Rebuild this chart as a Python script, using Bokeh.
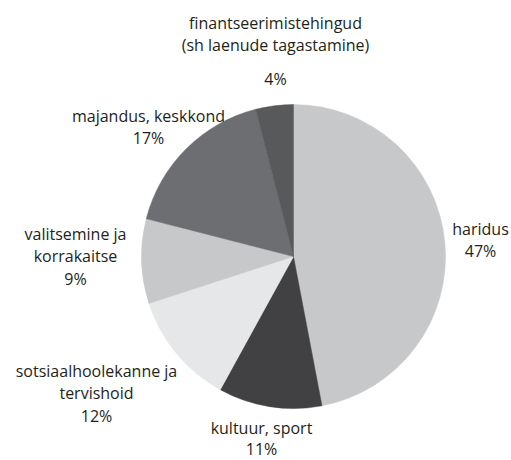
import numpy as np
from bokeh.plotting import figure
from bokeh.models import Range1d, ColumnDataSource
from bokeh.core.properties import value
from bokeh.embed import file_html
from bokeh.resources import INLINE

# ---- data ----
categories = ["haridus", "kultuur, sport", "sotsiaalhoolekanne ja\ntervishoid",
              "valitsemine ja\nkorrakaitse", "majandus, keskkond",
              "finantseerimistehingud\n(sh laenude tagastamine)"]
shares = [47, 11, 12, 9, 17, 4]
colors = ["#c7c8ca", "#414042", "#e6e7e8", "#c7c8ca", "#6d6e71", "#58595b"]

# ---- layout (screen px of first label line centre, extra gap before %) ----
label_pos = [(480, 228), (261, 427), (96, 370), (75, 233), (148, 115), (275, 22)]
pct_extra = [0, -1.5, 0, 0, 0, 11]
W, H = 511, 460
CX, CY, R = 293, 256, 152
LINE_H = 22.5

p = figure(width=W, height=H, output_backend="svg", toolbar_location=None,
           x_range=Range1d(0, W), y_range=Range1d(0, H), min_border=0)
p.axis.visible = False
p.grid.visible = False
p.outline_line_color = None
p.background_fill_color = "white"

total = sum(shares)
fr = np.array(shares) / total
ends = np.cumsum(fr) * 2 * np.pi
starts = np.concatenate([[0], ends[:-1]])
src = ColumnDataSource(dict(start=np.pi / 2 - starts, end=np.pi / 2 - ends, color=colors))
p.wedge(x=CX, y=H - CY, radius=R, radius_units="screen", start_angle="start", end_angle="end",
        direction="clock", fill_color="color", line_color="color", line_width=0.5, source=src)

xs, ys, ts = [], [], []
for cat, s, (lx, ly), ex in zip(categories, shares, label_pos, pct_extra):
    lines = cat.split("\n")
    for i, t in enumerate(lines):
        xs.append(lx)
        ys.append(H - (ly + i * LINE_H))
        ts.append(t)
    xs.append(lx)
    ys.append(H - (ly + len(lines) * LINE_H + ex))
    ts.append(f"{s}%")
p.text(x=xs, y=ys, text=ts, text_font=value("Open Sans"), text_font_size="16px",
       text_align="center", text_baseline="middle", text_color="#231f20")

open("out.html", "w").write(file_html(p, INLINE))
